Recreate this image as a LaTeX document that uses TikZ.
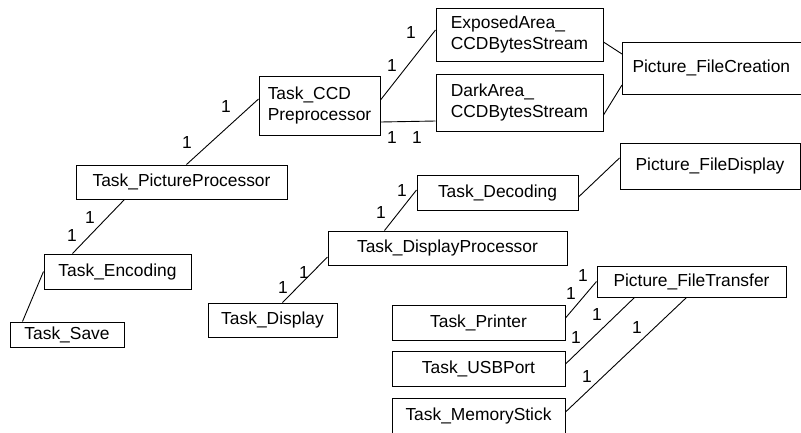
\documentclass[tikz,border=0pt]{standalone}
\usepackage{fontspec}
\setmainfont{Liberation Sans}
\usetikzlibrary{positioning}

\begin{document}
\begin{tikzpicture}[
  x=1pt,y=-1pt,
  font=\fontsize{17.4pt}{21.5pt}\selectfont,
  node distance=10pt,
  task/.style={draw,line width=1pt,inner sep=0pt,align=center},
  stream/.style={task,align=left},
  mult/.style={inner sep=0pt},
  ln/.style={line width=0.9pt}
]
\useasboundingbox (0,0) rectangle (801,432);
\clip (0,0) rectangle (801,432);

\node[stream,minimum width=167pt,minimum height=53pt] (ea) at (519.5,34.5) {ExposedArea\_\\CCDBytesStream};
\node[stream,minimum width=167pt,minimum height=57pt] (da) at (519.5,102.5) {DarkArea\_\\CCDBytesStream};
\node[task,anchor=west,text width=180pt,align=left,inner xsep=10pt,minimum height=52pt] (pfc) at (622,68) {Picture\_FileCreation};
\node[stream,minimum width=121pt,minimum height=59pt] (ccd) at (319.5,105.5) {Task\_CCD\\Preprocessor};
\node[task,minimum width=211pt,minimum height=34pt] (pp) at (181.5,182) {Task\_PictureProcessor};
\node[task,minimum width=147pt,minimum height=35pt] (enc) at (117.5,271.5) {Task\_Encoding};
\node[task,minimum width=114pt,minimum height=25pt] (sav) at (67,334.5) {Task\_Save};
\node[task,minimum width=161pt,minimum height=35pt] (dec) at (497.5,192.5) {Task\_Decoding};
\node[task,minimum width=180pt,minimum height=46pt] (pfd) at (710,166) {Picture\_FileDisplay};
\node[task,minimum width=239pt,minimum height=34pt] (dp) at (447.5,248) {Task\_DisplayProcessor};
\node[task,minimum width=129pt,minimum height=34pt] (dis) at (272.5,320) {Task\_Display};
\node[task,minimum width=189pt,minimum height=31pt] (pft) at (691.5,281.5) {Picture\_FileTransfer};
\node[task,minimum width=173pt,minimum height=35pt] (prn) at (478.5,322.5) {Task\_Printer};
\node[task,minimum width=173pt,minimum height=35pt,below=10pt of prn] (usb) {Task\_USBPort};
\node[task,minimum width=173pt,minimum height=35pt,below=11pt of usb] (mem) {Task\_MemoryStick};

% multiplicities
\node[mult] (m1) at (72,236) {1};   \node[mult] (m2) at (90,218) {1};
\node[mult] (m3) at (187,143) {1};  \node[mult] (m4) at (226,107) {1};
\node[mult] (m5) at (392,66) {1};   \node[mult] (m6) at (411,33) {1};
\node[mult] (m7) at (392,138) {1};  \node[mult] (m8) at (417,138) {1};
\node[mult] (m9) at (402,191) {1};  \node[mult] (m10) at (381,213) {1};
\node[mult] (m11) at (283,288) {1}; \node[mult] (m12) at (304,273) {1};
\node[mult] (m13) at (583,276) {1}; \node[mult] (m14) at (571,294) {1};
\node[mult] (m15) at (597,315) {1}; \node[mult] (m16) at (576,338) {1};
\node[mult] (m17) at (637,328) {1}; \node[mult] (m18) at (587,377) {1};

\draw[ln] ([xshift=13pt]sav.north west) -- (enc.west);
\draw[ln] ([xshift=29pt]enc.north west) -- ([xshift=49pt]pp.south west);
\draw[ln] ([xshift=111pt]pp.north west) -- ([yshift=6.5pt]ccd.west);
\draw[ln] ([yshift=5.5pt]ccd.east) -- ([yshift=4.5pt]ea.west);
\draw[ln] ([yshift=-16.5pt]ccd.east) -- ([yshift=-18.5pt]da.west);
\draw[ln] ([yshift=-7.5pt]ea.east) -- ([yshift=14pt]pfc.west);
\draw[ln] ([yshift=-12.5pt]da.east) -- ([yshift=-17pt]pfc.west);
\draw[ln] ([xshift=57pt]dp.north west) -- ([yshift=2.5pt]dec.west);
\draw[ln] ([yshift=-4.5pt]dec.east) -- ([yshift=8pt]pfd.west);
\draw[ln] ([xshift=75pt]dis.north west) -- ([yshift=-9pt]dp.west);
\draw[ln] ([yshift=4.5pt]prn.east) -- (pft.west);
\draw[ln] ([yshift=4.5pt]usb.east) -- ([xshift=38pt]pft.south west);
\draw[ln] ([yshift=3.5pt]mem.east) -- ([xshift=90pt]pft.south west);
\end{tikzpicture}
\end{document}
